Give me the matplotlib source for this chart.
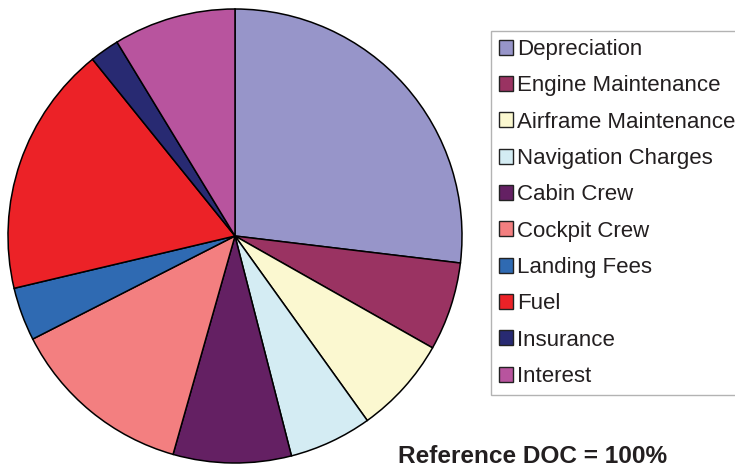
import matplotlib.pyplot as plt
from matplotlib.patches import Patch

plt.rcParams['font.family'] = ['Liberation Sans', 'DejaVu Sans']

# Share of direct operating cost (%)
labels = ['Depreciation', 'Engine Maintenance', 'Airframe Maintenance',
          'Navigation Charges', 'Cabin Crew', 'Cockpit Crew', 'Landing Fees',
          'Fuel', 'Insurance', 'Interest']
values = [26.9, 6.3, 6.9, 5.9, 8.4, 13.1, 3.8, 17.9, 2.1, 8.7]
colors = ['#9795C9', '#9A3362', '#FBF8D0', '#D4ECF3', '#642063',
          '#F37F80', '#2F6AB2', '#EC2227', '#282A72', '#B8549E']

W, H = 735, 470
fig = plt.figure(figsize=(W / 100, H / 100), dpi=100)

# pie: centre (235, 236), radius 227 px
cx, cy, r = 235, 236, 227
ax = fig.add_axes([(cx - r) / W, (H - cy - r) / H, 2 * r / W, 2 * r / H])
ax.pie(values, colors=colors, startangle=90, counterclock=False,
       wedgeprops=dict(edgecolor='black', linewidth=1.1))
ax.set_xlim(-1, 1)
ax.set_ylim(-1, 1)
ax.set_aspect('equal')
for w in ax.patches:
    w.set_clip_on(False)

handles = [Patch(facecolor=c, edgecolor='#222222', linewidth=1.0) for c in colors]
leg = fig.legend(handles, labels, loc='upper left',
                 bbox_to_anchor=(491 / W, 1 - 31 / H),
                 bbox_transform=fig.transFigure, borderaxespad=0,
                 fontsize=16, frameon=True, fancybox=False,
                 handlelength=0.65, handleheight=0.65, handletextpad=0.15,
                 labelspacing=0.69, borderpad=0.36)
leg.get_frame().set_edgecolor('#A0A0A0')
leg.get_frame().set_linewidth(1.0)
for t in leg.get_texts():
    t.set_color('#231F20')

fig.text(398 / W, 1 - 463 / H, 'Reference DOC = 100%', fontsize=17.6,
         fontweight='bold', color='#231F20', ha='left', va='baseline')

fig.savefig('out.png', dpi=100)
